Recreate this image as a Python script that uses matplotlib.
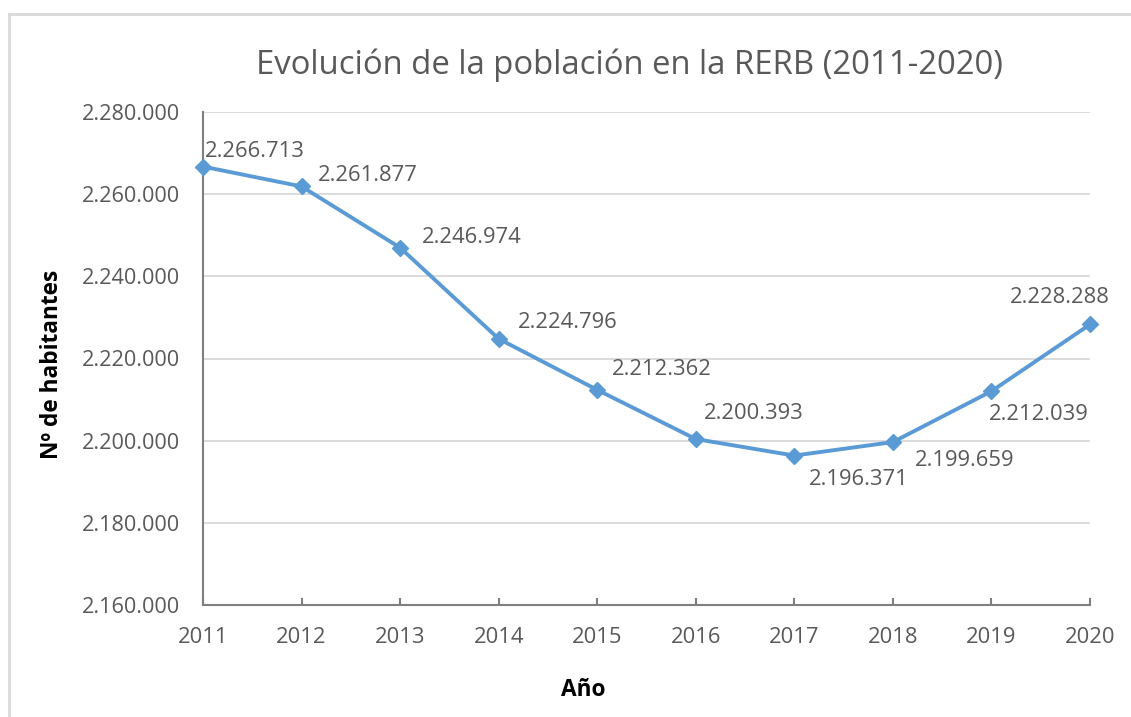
import matplotlib
matplotlib.use("Agg")
import matplotlib.pyplot as plt
from matplotlib.lines import Line2D

years = ["2011", "2012", "2013", "2014", "2015", "2016", "2017", "2018", "2019", "2020"]
population = [2266713, 2261877, 2246974, 2224796, 2212362, 2200393, 2196371, 2199659, 2212039, 2228288]
labels = ["2.266.713", "2.261.877", "2.246.974", "2.224.796", "2.212.362",
          "2.200.393", "2.196.371", "2.199.659", "2.212.039", "2.228.288"]
yticks = [2160000, 2180000, 2200000, 2220000, 2240000, 2260000, 2280000]
ytick_labels = ["2.160.000", "2.180.000", "2.200.000", "2.220.000", "2.240.000", "2.260.000", "2.280.000"]

FONT = "Open Sans"
GRAY = "#595959"
LINE = "#5b9bd5"

W, H = 1131, 717
fig = plt.figure(figsize=(W / 100, H / 100), dpi=100)
fig.patch.set_facecolor("white")

# outer chart border (top and left visible)
fig.add_artist(Line2D([9 / W, 1.0], [1 - 14 / H, 1 - 14 / H], transform=fig.transFigure,
                      color="#d9d9d9", lw=2))
fig.add_artist(Line2D([9 / W, 9 / W], [0, 1 - 14 / H], transform=fig.transFigure,
                      color="#d9d9d9", lw=2))

ax = fig.add_axes([203 / W, 1 - 605 / H, (1090 - 203) / W, (605 - 112) / H])
x = list(range(len(years)))
ax.plot(x, population, color=LINE, lw=2.8, marker="D", markersize=8, zorder=3, clip_on=False)

ax.set_xlim(0, len(years) - 1)
ax.set_ylim(yticks[0], yticks[-1])
ax.set_yticks(yticks)
ax.set_yticklabels(ytick_labels, fontfamily=FONT, fontsize=15.6, color=GRAY)
ax.set_xticks(x)
ax.set_xticklabels(years, fontfamily=FONT, fontsize=15.8, color=GRAY)
ax.grid(axis="y", color="#d9d9d9", lw=1.3)
ax.set_axisbelow(True)
for s in ["top", "right"]:
    ax.spines[s].set_visible(False)
for s in ["left", "bottom"]:
    ax.spines[s].set_color("#7f7f7f")
    ax.spines[s].set_linewidth(1.5)
ax.tick_params(axis="y", length=0, pad=16.5)
ax.tick_params(axis="x", direction="in", length=5, width=1.5, color="#7f7f7f", pad=16)

# data label offsets (pixels) and alignments
offsets = [(2, 15, "left"), (16, 11, "left"), (22, 10, "left"), (19, 16, "left"), (15, 20, "left"),
           (8, 26, "left"), (15, -24, "left"), (22, -18, "left"), (-3, -23, "left"), (20, 27, "right")]
for xi, yi, lab, (dx, dy, ha) in zip(x, population, labels, offsets):
    ax.annotate(lab, (xi, yi), xytext=(dx, dy), textcoords="offset pixels",
                ha=ha, va="center", fontfamily=FONT, fontsize=15.8, color=GRAY, zorder=4,
                annotation_clip=False)

fig.text(630 / W, 1 - 65 / H, "Evolución de la población en la RERB (2011-2020)",
         ha="center", va="center", fontfamily=FONT, fontsize=23.7, color=GRAY)
fig.text(52 / W, 1 - 364 / H, "Nº de habitantes", rotation=90, ha="center", va="center",
         fontfamily=FONT, fontsize=16.3, fontweight="bold", color="black")
fig.text(583 / W, 1 - 690 / H, "Año", ha="center", va="center",
         fontfamily=FONT, fontsize=16.3, fontweight="bold", color="black")

fig.savefig("out.png", dpi=100)
